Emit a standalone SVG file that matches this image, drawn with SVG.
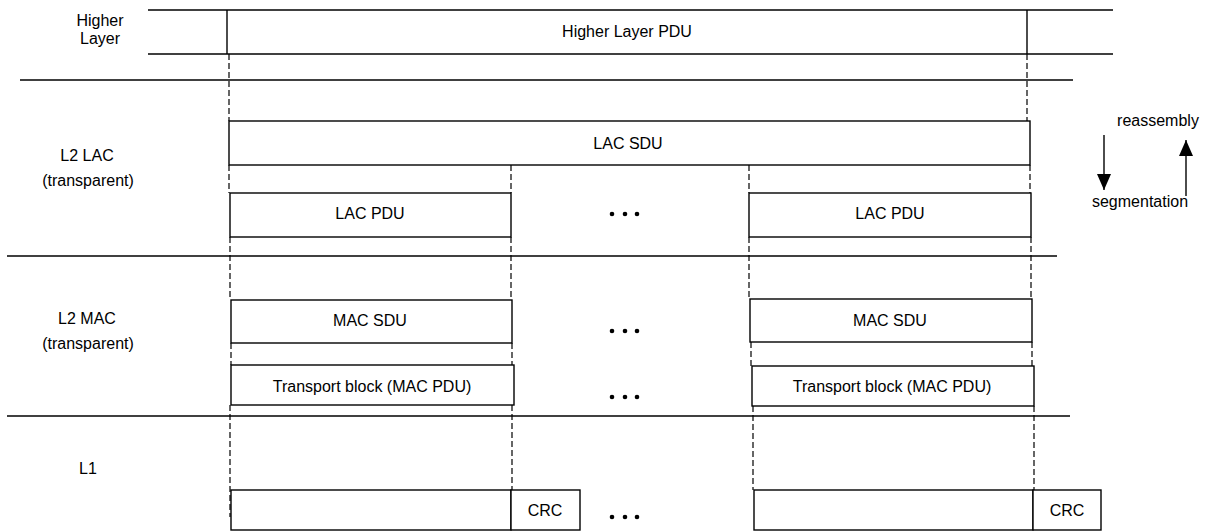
<svg xmlns="http://www.w3.org/2000/svg" width="1216" height="531" viewBox="0 0 1216 531">
<defs>
<style>
text{font-family:"Liberation Sans",Arial,sans-serif;font-size:16px;fill:#000;text-anchor:middle;dominant-baseline:central}
.ln{stroke:#000;stroke-width:1.4;fill:none}
.bx{stroke:#000;stroke-width:1.4;fill:#fff}
.ds{stroke:#000;stroke-width:1.2;stroke-dasharray:6 3;fill:none}
.dot{fill:#000}
</style>
<marker id="ah" viewBox="0 0 16 14" refX="16" refY="7" markerWidth="16" markerHeight="14" markerUnits="userSpaceOnUse" orient="auto">
<path d="M0,0 L16,7 L0,14 z" fill="#000"/>
</marker>
</defs>
<rect width="1216" height="531" fill="#fff"/>
<g id="layers">
<line class="ln" x1="148" y1="10" x2="1113" y2="10"/>
<line class="ln" x1="148" y1="54" x2="1113" y2="54"/>
<line class="ln" x1="20" y1="80" x2="1073" y2="80"/>
<line class="ln" x1="7" y1="256" x2="1057" y2="256"/>
<line class="ln" x1="7" y1="416" x2="1070" y2="416"/>
</g>
<g id="connectors">
<line class="ds" x1="229" y1="54" x2="229" y2="121"/>
<line class="ds" x1="1027" y1="54" x2="1027" y2="121"/>
<line class="ds" x1="229" y1="165" x2="229" y2="193"/>
<line class="ds" x1="511" y1="165" x2="511" y2="193"/>
<line class="ds" x1="749" y1="165" x2="749" y2="193"/>
<line class="ds" x1="1030" y1="165" x2="1030" y2="193"/>
<line class="ds" x1="230" y1="237" x2="230" y2="300"/>
<line class="ds" x1="511" y1="237" x2="511" y2="300"/>
<line class="ds" x1="749" y1="237" x2="749" y2="300"/>
<line class="ds" x1="1031" y1="237" x2="1031" y2="300"/>
<line class="ds" x1="231" y1="343" x2="231" y2="365"/>
<line class="ds" x1="512" y1="343" x2="512" y2="365"/>
<line class="ds" x1="751" y1="342" x2="751" y2="366"/>
<line class="ds" x1="1032" y1="342" x2="1032" y2="366"/>
<line class="ds" x1="230" y1="405" x2="230" y2="517"/>
<line class="ds" x1="512" y1="405" x2="512" y2="490"/>
<line class="ds" x1="753" y1="406" x2="753" y2="490"/>
<line class="ds" x1="1034" y1="406" x2="1034" y2="490"/>
</g>
<g id="higher-layer-label"><text x="100" y="20">Higher</text><text x="100" y="38">Layer</text></g>
<g id="higher-layer-pdu">
<line class="ln" x1="227" y1="10" x2="227" y2="54"/>
<line class="ln" x1="1027" y1="10" x2="1027" y2="54"/>
<text x="627" y="31">Higher Layer PDU</text>
</g>
<g id="l2-lac-label"><text x="87" y="155">L2 LAC</text><text x="88" y="180">(transparent)</text></g>
<g id="lac-sdu"><rect class="bx" x="229" y="121" width="801" height="44"/><text x="628" y="143">LAC SDU</text></g>
<g id="lac-pdu-1"><rect class="bx" x="230" y="193" width="281" height="44"/><text x="370" y="213">LAC PDU</text></g>
<g id="lac-pdu-2"><rect class="bx" x="749" y="193" width="282" height="44"/><text x="890" y="213">LAC PDU</text></g>
<g id="dots-lac"><circle class="dot" cx="612" cy="214" r="2.3"/><circle class="dot" cx="625" cy="214" r="2.3"/><circle class="dot" cx="637" cy="214" r="2.3"/></g>
<g id="direction">
<line class="ln" x1="1104" y1="135" x2="1104" y2="190" marker-end="url(#ah)"/>
<line class="ln" x1="1186" y1="196" x2="1186" y2="140" marker-end="url(#ah)"/>
<text x="1158" y="120">reassembly</text>
<text x="1140" y="201">segmentation</text>
</g>
<g id="l2-mac-label"><text x="87" y="318">L2 MAC</text><text x="88" y="343">(transparent)</text></g>
<g id="mac-sdu-1"><rect class="bx" x="231" y="300" width="281" height="43"/><text x="370" y="320">MAC SDU</text></g>
<g id="mac-sdu-2"><rect class="bx" x="750" y="299" width="282" height="43"/><text x="890" y="320">MAC SDU</text></g>
<g id="dots-mac"><circle class="dot" cx="612" cy="331" r="2.3"/><circle class="dot" cx="625" cy="331" r="2.3"/><circle class="dot" cx="637" cy="331" r="2.3"/></g>
<g id="tb-1"><rect class="bx" x="231" y="365" width="283" height="40"/><text x="372" y="386">Transport block (MAC PDU)</text></g>
<g id="tb-2"><rect class="bx" x="752" y="366" width="282" height="40"/><text x="892" y="386">Transport block (MAC PDU)</text></g>
<g id="dots-tb"><circle class="dot" cx="612" cy="397" r="2.3"/><circle class="dot" cx="625" cy="397" r="2.3"/><circle class="dot" cx="637" cy="397" r="2.3"/></g>
<g id="l1-label"><text x="88" y="468">L1</text></g>
<g id="l1-block-1"><rect class="bx" x="231" y="490" width="280" height="40"/><rect class="bx" x="511" y="490" width="69" height="40"/><text x="545" y="510">CRC</text></g>
<g id="l1-block-2"><rect class="bx" x="754" y="490" width="279" height="40"/><rect class="bx" x="1033" y="490" width="68" height="40"/><text x="1067" y="510">CRC</text></g>
<g id="dots-l1"><circle class="dot" cx="612" cy="517" r="2.3"/><circle class="dot" cx="625" cy="517" r="2.3"/><circle class="dot" cx="637" cy="517" r="2.3"/></g>
</svg>
